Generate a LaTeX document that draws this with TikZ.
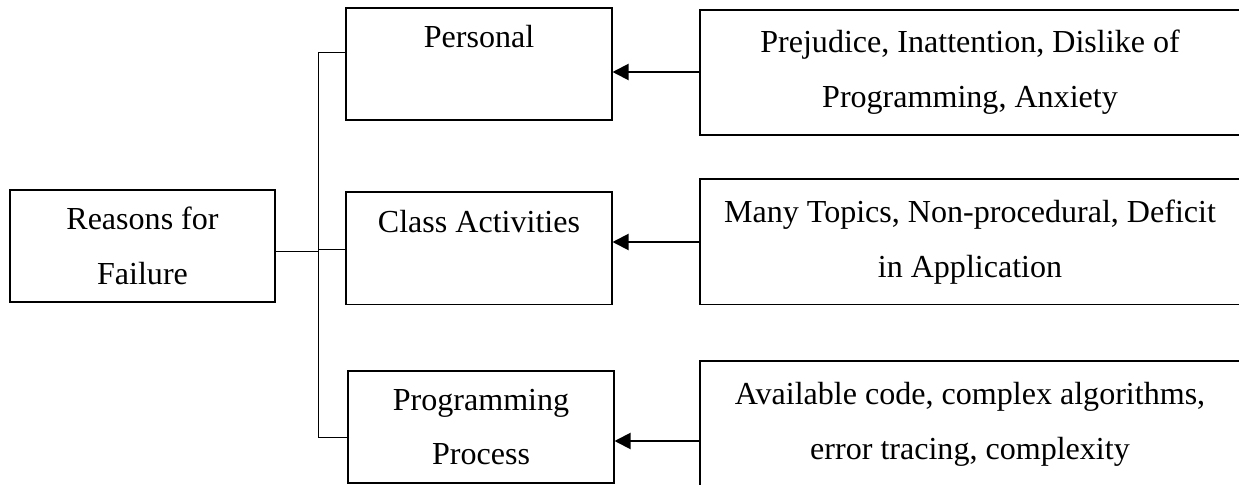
\documentclass[tikz,border=0pt]{standalone}
\usepackage{fontspec}
\setmainfont{Liberation Serif}
\usetikzlibrary{arrows.meta}

\tikzset{
  box/.style={draw, line width=1.4pt, align=center, inner sep=0pt, font=\fontsize{22.8}{39}\selectfont},
  small/.style={box, minimum width=6.625cm, minimum height=2.8cm},
  wide/.style={box, minimum width=13.5cm, minimum height=3.125cm},
  link/.style={line width=0.7pt},
  feed/.style={line width=1.4pt, -{Triangle[length=0.4cm, width=0.4cm]}}
}

\begin{document}
\begin{tikzpicture}[x=0.025cm, y=-0.025cm]
\useasboundingbox (0,0) rectangle (1239,485);
\clip (0,0) rectangle (1239,485);

\node[small] (reasons) at (142.5,246) {Reasons for\\Failure};
\node[small] (personal) at (479,64) {Personal\\~};
\node[small] (classact) at (479,248.5) {Class Activities\\~};
\node[small] (progproc) at (481,427) {Programming\\Process};

\node[wide] (cause1) at (970,72.5) {Prejudice, Inattention, Dislike of\\Programming, Anxiety};
\node[wide] (cause2) at (970,242) {Many Topics, Non-procedural, Deficit\\in Application};
\node[wide] (cause3) at (970,424) {Available code, complex algorithms,\\error tracing, complexity};

\coordinate (trunktop) at (318,52);
\coordinate (trunkmid) at (318,251);
\coordinate (classrow) at (318,249);
\coordinate (trunkbot) at (318,437);
\draw[link] (trunktop) -- (trunkbot);
\draw[link] (reasons.east |- trunkmid) -- (trunkmid);
\draw[link] (trunktop) -- (trunktop -| personal.west);
\draw[link] (classrow) -- (classrow -| classact.west);
\draw[link] (trunkbot) -- (trunkbot -| progproc.west);

\coordinate (row1) at (700,72);
\coordinate (row2) at (700,242);
\coordinate (row3) at (700,441);
\draw[feed] (cause1.west |- row1) -- (personal.east |- row1);
\draw[feed] (cause2.west |- row2) -- (classact.east |- row2);
\draw[feed] (cause3.west |- row3) -- (progproc.east |- row3);

\end{tikzpicture}
\end{document}
